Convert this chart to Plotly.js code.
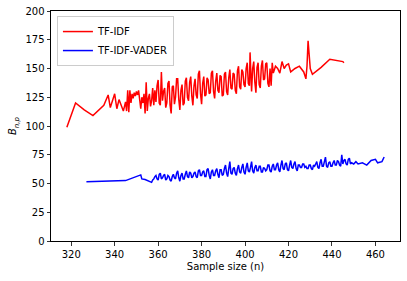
<!DOCTYPE html>
<html>
<head>
<meta charset="utf-8">
<script src="https://cdn.plot.ly/plotly-3.0.1.min.js"></script>
<style>html,body{margin:0;padding:0;background:#fff;}#chart{width:407px;height:281px;}</style>
</head>
<body>
<div id="chart"></div>
<script>
const tfidfX = [318,322,326,330,335,337,338,339,340,341,342,343,344,
345,345.5,346,346.5,347,347.5,348,348.5,349,349.5,
350,350.5,351,351.5,352,352.5,353,353.5,354,354.5,
355,355.5,356,356.5,357,357.5,358,358.5,359,359.5,
360,360.5,361,361.5,362,362.5,363,363.5,364,364.5,
365,365.5,366,366.5,367,367.5,368,368.5,369,369.5,
370,370.5,371,371.5,372,372.5,373,373.5,374,374.5,
375,375.5,376,376.5,377,377.5,378,378.5,379,379.5,
380,380.5,381,381.5,382,382.5,383,383.5,384,384.5,
385,385.5,386,386.5,387,387.5,388,388.5,389,389.5,
390,390.5,391,391.5,392,392.5,393,393.5,394,394.5,
395,395.5,396,396.5,397,397.5,398,398.5,399,399.5,
400,400.5,401,401.5,
402,402.3,402.7,
403,403.5,404,404.5,
405,405.5,406,406.5,407,407.5,408,408.5,409,409.5,
410,410.5,411,411.5,412,412.5,
413,414,415,416,417,418,419,420,421,423,425,427,428,428.5,429,430,431,435,439,445,445.5];
const tfidfY = [99,120,114,109,118,127,116,122,128,115,123,118,113,
121,113,131,112,131,120,128,124,129,126,
130,127,131,120,115,125,120,128,111,138,
113,124,128,117,122,133,118,131,121,135,
140,120,118,147,122,130,133,116,120,137,
139,118,111,134,135,119,125,141,141,123,
114,131,136,118,120,139,142,125,122,138,
143,126,118,135,141,127,124,145,148,128,
119,137,143,126,127,142,140,128,129,146,
148,130,124,139,146,131,129,144,143,126,
127,145,147,130,127,142,149,133,132,146,
145,131,128,148,152,134,132,149,147,136,
134,150,155,137,
135,164,138,
130,150,156,138,
129,151,155,136,133,152,157,140,141,154,
155,137,134,150,135,155,
146,152,150,146,156,150,153,154,147,150,152,147,141,152,174,150,145,151,158,156,155];
const vaderX = [327,345,352,352.5,354,
357,357.5,358,358.5,359,359.5,360,360.5,361,361.5,
362,362.5,363,363.5,364,364.5,365,365.5,366,366.5,
367,367.5,368,368.5,369,369.5,370,370.5,371,371.5,
372,372.5,373,373.5,374,374.5,375,375.5,376,376.5,
377,377.5,378,378.5,379,379.5,380,380.5,381,381.5,
382,382.5,383,383.5,384,384.5,385,385.5,386,386.5,
387,387.5,388,388.5,389,389.5,390,390.5,391,391.5,
392,392.5,393,393.5,394,394.5,395,395.5,396,396.5,
397,397.5,398,398.5,399,399.5,400,400.5,401,401.5,
402,402.5,403,403.5,404,404.5,405,405.5,406,406.5,
407,407.5,408,408.5,409,409.5,410,410.5,411,411.5,
412,412.5,413,413.5,414,414.5,415,415.5,416,416.5,
417,417.5,418,418.5,419,419.5,420,420.5,421,421.5,
422,422.5,423,423.5,424,424.5,425,425.5,426,426.5,
427,427.5,428,428.5,429,429.5,430,430.5,431,431.5,
432,432.5,433,433.5,434,434.5,435,435.5,436,436.5,
437,437.5,438,438.5,439,439.5,440,440.5,441,441.5,
442,442.5,443,443.5,444,444.5,445,445.5,446,446.5,
447,447.5,448,448.5,449,
450,451,452,454,456,458,460,461,463,464];
const vaderY = [51.5,52.5,57.5,54,53.5,
51,53,54,56,57,54,53,58,59,54,
55,57,58,53,54,57,56,53,52,56,
58,55,54,59,61,55,52,57,59,54,
54,58,61,56,55,60,59,55,56,59,
60,56,55,61,62,57,57,60,61,56,
56,62,63,57,54,60,62,57,57,61,
63,58,55,62,62,57,58,63,66,59,
56,63,69,59,58,63,64,59,57,63,
66,60,59,64,67,60,58,64,68,61,
60,64,69,61,59,64,66,61,61,65,
65,60,60,64,63,61,62,66,66,61,
60,65,67,62,62,66,68,62,60,66,
70,63,62,67,68,62,61,66,70,64,
63,67,69,63,61,66,66,64,64,67,
67,64,65,63,63,66,66,63,62,66,
65,67,69,64,63,68,71,65,65,69,
73,65,64,68,69,65,65,68,70,66,
66,70,69,66,65,75,67,70,71,67,
66,71,72,67,68,
67,69,67,68,66,70,71,68,69,73];
const seriesNames = ['TF-IDF','TF-IDF-VADER'];
const xTicks = [320,340,360,380,400,420,440,460];
const yTicks = [0,25,50,75,100,125,150,175,200];

const font = {family:'DejaVu Sans, sans-serif', size:10, color:'#000'};
const traces = [
  {x:tfidfX, y:tfidfY, name:seriesNames[0], type:'scatter', mode:'lines', line:{color:'#ff0000', width:1.5}},
  {x:vaderX, y:vaderY, name:seriesNames[1], type:'scatter', mode:'lines', line:{color:'#0000ff', width:1.5}}
];
const axisCommon = {showgrid:false, zeroline:false, showline:true, linecolor:'#000', linewidth:1, mirror:true, ticks:'outside', ticklen:3.5, tickcolor:'#000', tickwidth:0.8, tickfont:font};
const layout = {
  width:407, height:281,
  margin:{l:51, r:7, t:11, b:39.5, pad:0},
  paper_bgcolor:'#fff', plot_bgcolor:'#fff',
  font:font,
  showlegend:true,
  legend:{x:0.017, y:0.978, xanchor:'left', yanchor:'top', bgcolor:'rgba(255,255,255,0.8)', bordercolor:'#cccccc', borderwidth:1, font:font, itemwidth:30, tracegroupgap:0},
  xaxis:Object.assign({}, axisCommon, {range:[310.7,471.3], tickvals:xTicks, ticktext:xTicks.map(String), title:{text:'Sample size (n)', font:font, standoff:4}}),
  yaxis:Object.assign({}, axisCommon, {range:[0,200], tickvals:yTicks, ticktext:yTicks.map(String), title:{text:'<i>B</i><sub><i>n,p</i></sub>', font:font, standoff:6}})
};
Plotly.newPlot('chart', traces, layout, {displayModeBar:false, staticPlot:true});
</script>
</body>
</html>
